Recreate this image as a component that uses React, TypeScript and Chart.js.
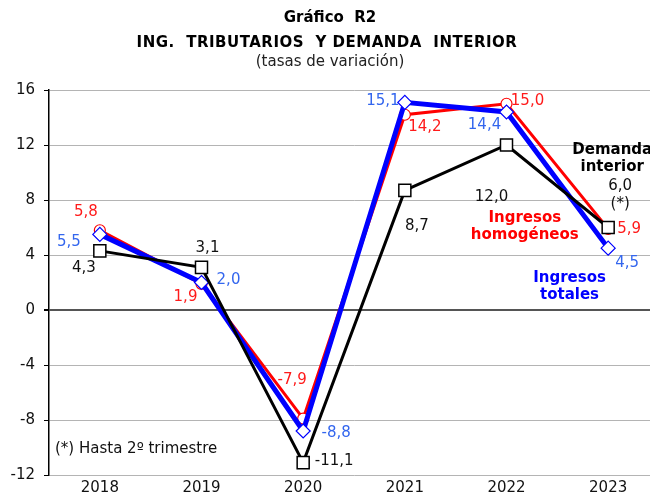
import React, { useEffect, useRef } from "react";
import { Chart, registerables } from "chart.js";

Chart.register(...registerables);

const years = ["2018", "2019", "2020", "2021", "2022", "2023"];
const ingresosTotales = [5.5, 2.0, -8.8, 15.1, 14.4, 4.5];
const ingresosHomogeneos = [5.8, 1.9, -7.9, 14.2, 15.0, 5.9];
const demandaInterior = [4.3, 3.1, -11.1, 8.7, 12.0, 6.0];
const yTicks = [-12, -8, -4, 0, 4, 8, 12, 16];

const titleLines = ["Gráfico  R2", "ING.  TRIBUTARIOS  Y DEMANDA  INTERIOR", "(tasas de variación)"];
const noteText = "(*) Hasta 2º trimestre";

// label offsets in pixels relative to each point (style only)
const offTotales = [[-31, 8], [27, -2], [33, 2], [-22, -1], [-22, 13], [19, 15]];
const offHomog = [[-14, -18], [-16, 13], [-11, -39], [20, 12], [21, -3], [21, 0]];
const offDemanda = [[-16, 17], [6, -19], [31, -2], [12, 36], [-15, 52], [12, -41]];

const FONT = "'DejaVu Sans', Verdana, sans-serif";
const FS = 15;
const fmt = (v: number) => v.toFixed(1).replace(".", ",");

const labelsPlugin = {
  id: "labelsPlugin",
  afterDatasetsDraw(chart: any) {
    const { ctx, scales } = chart;
    const xs = scales.x;
    const ys = scales.y;
    ctx.save();
    ctx.textBaseline = "middle";
    ctx.textAlign = "center";
    ctx.font = `${FS}px ${FONT}`;
    const drawSet = (vals: number[], offs: number[][], color: string) => {
      ctx.fillStyle = color;
      vals.forEach((v, i) => {
        const px = xs.getPixelForValue(i);
        const py = ys.getPixelForValue(v);
        ctx.fillText(fmt(v), px + offs[i][0], py + offs[i][1]);
      });
    };
    drawSet(ingresosHomogeneos, offHomog, "#ff1a1a");
    drawSet(ingresosTotales, offTotales, "#3366ee");
    drawSet(demandaInterior, offDemanda, "#111111");
    {
      const i = demandaInterior.length - 1;
      const px = xs.getPixelForValue(i) + offDemanda[i][0];
      const py = ys.getPixelForValue(demandaInterior[i]) + offDemanda[i][1] + 18;
      ctx.fillStyle = "#111111";
      ctx.fillText("(*)", px, py);
    }
    ctx.font = `bold ${FS}px ${FONT}`;
    const name = (lines: string[], xv: number, yv: number, color: string) => {
      ctx.fillStyle = color;
      lines.forEach((l, k) => {
        ctx.fillText(l, xs.getPixelForValue(xv), ys.getPixelForValue(yv) + k * 17.5);
      });
    };
    name(["Demanda", "interior"], 5.04, 11.64, "#000000");
    name(["Ingresos", "homogéneos"], 4.18, 6.69, "#ff0000");
    name(["Ingresos", "totales"], 4.62, 2.33, "#0000ff");
    ctx.font = `${FS}px ${FONT}`;
    ctx.textAlign = "left";
    ctx.fillStyle = "#111111";
    ctx.fillText(noteText, xs.left + 6, ys.getPixelForValue(-10.1));
    ctx.textAlign = "center";
    ctx.fillStyle = "#000000";
    ctx.font = `bold ${FS}px ${FONT}`;
    ctx.fillText(titleLines[0], 330, 18);
    try {
      (ctx as any).letterSpacing = "0.5px";
    } catch (e) {}
    ctx.fillText(titleLines[1], 327, 43);
    try {
      (ctx as any).letterSpacing = "0px";
    } catch (e) {}
    ctx.font = `${FS}px ${FONT}`;
    ctx.fillStyle = "#222222";
    ctx.fillText(titleLines[2], 330, 62);
    ctx.restore();
  },
};

export default function App() {
  const ref = useRef<HTMLCanvasElement | null>(null);
  useEffect(() => {
    if (!ref.current) return;
    const chart = new Chart(ref.current, {
      type: "line",
      data: {
        labels: years,
        datasets: [
          {
            label: "Demanda interior",
            data: demandaInterior,
            borderColor: "#000000",
            borderWidth: 3,
            pointStyle: "rect",
            pointRadius: 8.5,
            pointBackgroundColor: "#ffffff",
            pointBorderColor: "#000000",
            pointBorderWidth: 1.5,
            tension: 0,
          },
          {
            label: "Ingresos totales",
            data: ingresosTotales,
            borderColor: "#0000ff",
            borderWidth: 5,
            pointStyle: "rectRot",
            pointRadius: 7,
            pointBackgroundColor: "#ffffff",
            pointBorderColor: "#0000ff",
            pointBorderWidth: 1.2,
            tension: 0,
          },
          {
            label: "Ingresos homogéneos",
            data: ingresosHomogeneos,
            borderColor: "#ff0000",
            borderWidth: 3,
            pointStyle: "circle",
            pointRadius: 5.5,
            pointBackgroundColor: "#ffffff",
            pointBorderColor: "#ff0000",
            pointBorderWidth: 1.2,
            tension: 0,
          },
        ],
      },
      options: {
        responsive: false,
        animation: false,
        devicePixelRatio: 1,
        layout: { padding: { top: 90, right: 11, left: 0, bottom: 0 } },
        plugins: { legend: { display: false }, tooltip: { enabled: false }, title: { display: false } },
        scales: {
          x: {
            offset: true,
            grid: { display: false, drawTicks: false, tickLength: 0 },
            border: { display: false },
            ticks: { color: "#111", font: { family: FONT, size: FS }, padding: 4, maxRotation: 0 },
            afterFit: (s: any) => {
              s.height = 19;
            },
          },
          y: {
            min: -12,
            max: 16,
            afterBuildTicks: (s: any) => {
              s.ticks = yTicks.map((v) => ({ value: v }));
            },
            grid: {
              color: (c: any) => (c.tick && c.tick.value === 0 ? "#555555" : "#b4b4b4"),
              lineWidth: (c: any) => (c.tick && c.tick.value === 0 ? 2 : 1),
              tickColor: "#000000",
              tickLength: 5,
              drawTicks: true,
            },
            border: { color: "#000000", width: 1.5 },
            ticks: { color: "#111", font: { family: FONT, size: FS }, padding: 9 },
            afterFit: (s: any) => {
              s.width = 49;
            },
          },
        },
      },
      plugins: [labelsPlugin],
    });
    return () => chart.destroy();
  }, []);
  return (
    <div style={{ position: "fixed", left: 0, top: 0, width: 650, height: 494, overflow: "hidden", background: "#fff" }}>
      <canvas ref={ref} width={670} height={494} style={{ display: "block" }} />
    </div>
  );
}
